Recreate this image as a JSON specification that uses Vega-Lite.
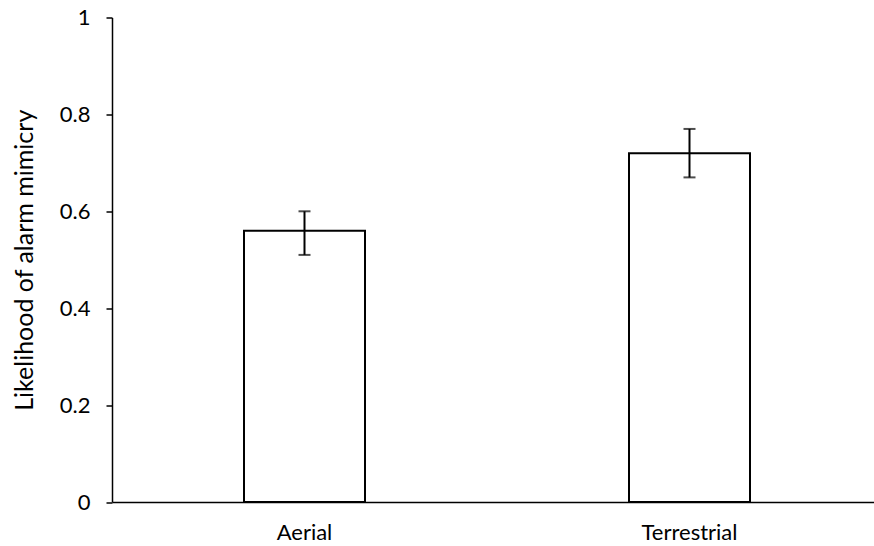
{
  "$schema": "https://vega.github.io/schema/vega-lite/v6.json",
  "autosize": "none",
  "width": 762,
  "height": 484.5,
  "padding": {"left": 112, "top": 17.5, "right": 0, "bottom": 44},
  "background": "white",
  "config": {
    "view": {"stroke": null},
    "font": "Lato",
    "axis": {"labelFont": "Lato", "titleFont": "Lato", "labelColor": "black", "titleColor": "black", "domainColor": "black", "tickColor": "black", "grid": false}
  },
  "data": {"values": [
    {"type": "Aerial", "mean": 0.56, "lo": 0.51, "hi": 0.60},
    {"type": "Terrestrial", "mean": 0.72, "lo": 0.67, "hi": 0.77}
  ]},
  "encoding": {
    "x": {"field": "type", "type": "nominal", "sort": null,
      "scale": {"range": [0, 770], "paddingInner": 0, "paddingOuter": 0},
      "axis": {"title": null, "labelAngle": 0, "ticks": false, "labelFontSize": 22, "labelPadding": 20, "domainWidth": 1.5}}
  },
  "layer": [
    {
      "mark": {"type": "bar", "fill": "white", "stroke": "black", "strokeWidth": 2, "size": 121},
      "encoding": {
        "y": {"field": "mean", "type": "quantitative",
          "scale": {"domain": [0, 1], "nice": false},
          "axis": {"title": "Likelihood of alarm mimicry", "titleFontSize": 25, "titleFontWeight": "normal", "titlePadding": 22,
            "values": [0, 0.2, 0.4, 0.6, 0.8, 1], "format": "~g", "labelFontSize": 22, "labelPadding": 16, "tickSize": 6, "domainWidth": 1.5, "tickWidth": 1.5}}
      }
    },
    {
      "mark": {"type": "rule", "color": "black", "strokeWidth": 2},
      "encoding": {"y": {"field": "lo", "type": "quantitative"}, "y2": {"field": "hi"}}
    },
    {
      "mark": {"type": "tick", "color": "black", "thickness": 2, "size": 12, "orient": "horizontal"},
      "encoding": {"y": {"field": "lo", "type": "quantitative"}}
    },
    {
      "mark": {"type": "tick", "color": "black", "thickness": 2, "size": 12, "orient": "horizontal"},
      "encoding": {"y": {"field": "hi", "type": "quantitative"}}
    }
  ]
}
